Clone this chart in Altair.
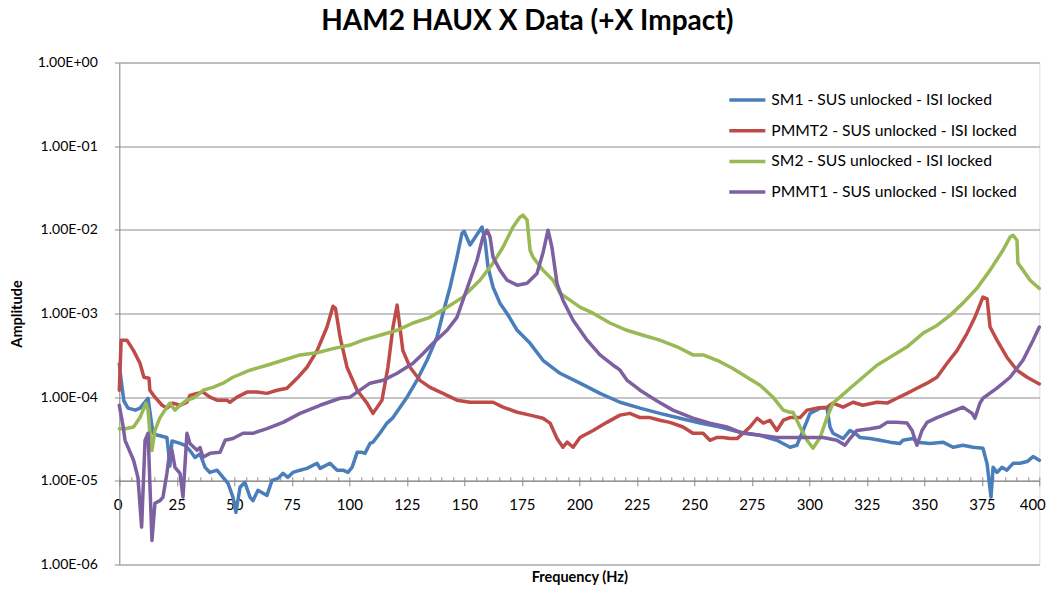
import altair as alt
import pandas as pd

# ---------------- data ----------------
series_names = [
    "SM1 - SUS unlocked - ISI locked",
    "PMMT2 - SUS unlocked - ISI locked",
    "SM2 - SUS unlocked - ISI locked",
    "PMMT1 - SUS unlocked - ISI locked",
]
series_colors = ["#4A7EBB", "#BE4B48", "#98B954", "#7D60A0"]

sm1_freq = [0.0, 0.8, 2.0, 3.8, 7.0, 9.0, 12.5, 14.2, 14.7, 16.8, 20.7, 21.2, 22.0, 22.9, 26.4, 28.6, 30.7, 32.9,
            35.1, 37.3, 39.4, 42.5, 45.1, 47.3, 49.4, 50.7, 52.5, 54.6, 56.8, 58.1, 60.3, 62.5, 64.2, 66.4, 69.0,
            71.2, 73.3, 75.5, 78.6, 81.6, 86.0, 87.3, 91.6, 94.7, 97.3, 99.4, 101.2, 103.4, 105.5, 106.8, 109.0,
            110.3, 113.3, 116.4, 119.0, 125.1, 129.4, 133.8, 138.1, 140.7, 143.8, 146.8, 149.0, 149.9, 152.5,
            157.7, 159.0, 160.3, 162.5, 165.5, 168.6, 173.0, 178.6, 184.2, 191.6, 200.3, 209.0, 217.7, 226.4,
            235.0, 243.8, 252.5, 261.2, 269.9, 278.6, 285.9, 291.6, 294.6, 297.3, 300.3, 304.7, 307.7, 309.0,
            310.3, 314.7, 317.7, 319.9, 322.0, 326.4, 330.7, 335.1, 339.4, 340.7, 345.1, 346.8, 352.5, 358.1,
            362.5, 366.8, 371.2, 375.5, 377.3, 379.0, 379.9, 381.6, 383.8, 385.9, 388.6, 391.6, 394.7, 397.3, 400.0]
sm1_amp = [2.5e-4, 1.6e-4, 9.0e-5, 7.4e-5, 7.0e-5, 7.4e-5, 9.7e-5, 4.5e-5, 3.7e-5, 3.5e-5, 3.3e-5, 2.5e-5, 1.5e-5,
           3.0e-5, 2.8e-5, 2.66e-5, 2.3e-5, 1.9e-5, 2.1e-5, 1.45e-5, 1.26e-5, 1.34e-5, 1.10e-5, 9.3e-6, 6.4e-6,
           4.2e-6, 8.4e-6, 9.6e-6, 6.4e-6, 5.8e-6, 7.7e-6, 7.1e-6, 6.7e-6, 1.01e-5, 1.07e-5, 1.23e-5, 1.10e-5,
           1.26e-5, 1.34e-5, 1.41e-5, 1.62e-5, 1.41e-5, 1.62e-5, 1.34e-5, 1.34e-5, 1.26e-5, 1.45e-5, 2.19e-5,
           2.19e-5, 2.13e-5, 2.8e-5, 2.9e-5, 3.7e-5, 4.9e-5, 5.7e-5, 1.0e-4, 1.59e-4, 2.76e-4, 5.2e-4, 1.0e-3,
           2.06e-3, 4.7e-3, 9.1e-3, 9.6e-3, 6.6e-3, 1.08e-2, 7.5e-3, 3.6e-3, 2.06e-3, 1.33e-3, 1.0e-3, 6.3e-4,
           4.4e-4, 2.76e-4, 1.93e-4, 1.47e-4, 1.11e-4, 8.7e-5, 7.4e-5, 6.4e-5, 5.6e-5, 4.9e-5, 4.4e-5, 3.8e-5,
           3.5e-5, 3.05e-5, 2.52e-5, 2.66e-5, 4.0e-5, 6.4e-5, 7.4e-5, 7.4e-5, 4.4e-5, 3.7e-5, 3.2e-5, 4.0e-5,
           3.7e-5, 3.3e-5, 3.2e-5, 3.05e-5, 2.9e-5, 2.8e-5, 3.05e-5, 3.2e-5, 2.9e-5, 2.8e-5, 2.9e-5, 2.52e-5,
           2.66e-5, 2.52e-5, 2.45e-5, 1.6e-5, 6.4e-6, 1.45e-5, 1.26e-5, 1.45e-5, 1.34e-5, 1.62e-5, 1.62e-5,
           1.7e-5, 1.95e-5, 1.76e-5]

pmmt2_freq = [0.0, 0.8, 3.3, 6.2, 9.0, 10.7, 12.9, 13.3, 15.5, 18.6, 20.7, 23.3, 26.4, 29.4, 30.7, 33.8, 36.4,
              39.4, 42.5, 46.8, 48.1, 51.2, 55.5, 59.9, 64.2, 68.6, 72.9, 77.3, 81.6, 86.0, 90.3, 92.9, 94.0,
              96.0, 99.0, 103.4, 107.7, 110.3, 114.2, 116.8, 119.0, 120.8, 122.0, 123.3, 126.4, 130.7, 135.1,
              140.7, 146.8, 152.5, 158.1, 162.5, 166.8, 173.0, 178.6, 184.2, 187.3, 190.3, 192.9, 194.7, 197.3,
              200.3, 206.0, 212.0, 217.7, 222.0, 226.4, 230.7, 235.0, 239.4, 245.1, 249.4, 253.8, 256.8, 259.9,
              262.5, 265.5, 268.6, 271.2, 274.2, 277.3, 280.0, 282.9, 285.9, 288.7, 291.6, 296.0, 299.0, 303.3,
              307.7, 310.3, 314.7, 319.0, 323.3, 329.4, 333.8, 338.1, 342.5, 346.8, 351.2, 355.5, 359.9, 364.2,
              368.6, 372.0, 375.5, 377.3, 378.6, 381.6, 385.9, 390.3, 394.7, 400.0]
pmmt2_amp = [1.21e-4, 4.8e-4, 4.8e-4, 3.6e-4, 2.54e-4, 1.73e-4, 1.68e-4, 1.21e-4, 1.0e-4, 8.0e-5, 7.4e-5, 8.5e-5,
             8.0e-5, 8.7e-5, 1.05e-4, 1.11e-4, 1.15e-4, 1.0e-4, 9.2e-5, 9.2e-5, 8.7e-5, 1.0e-4, 1.15e-4, 1.15e-4,
             1.11e-4, 1.21e-4, 1.28e-4, 1.68e-4, 2.28e-4, 3.6e-4, 6.9e-4, 1.22e-3, 1.15e-3, 5.2e-4, 2.28e-4,
             1.21e-4, 8.5e-5, 6.4e-5, 9.2e-5, 2.28e-4, 6.9e-4, 1.26e-3, 6.9e-4, 3.6e-4, 2.28e-4, 1.59e-4,
             1.31e-4, 1.11e-4, 9.2e-5, 8.7e-5, 8.7e-5, 8.7e-5, 7.6e-5, 6.6e-5, 6.1e-5, 5.6e-5, 4.9e-5, 3.2e-5,
             2.52e-5, 2.9e-5, 2.52e-5, 3.3e-5, 4.0e-5, 5.0e-5, 6.1e-5, 6.4e-5, 5.7e-5, 5.7e-5, 5.3e-5, 5.0e-5,
             4.4e-5, 3.7e-5, 3.7e-5, 3.05e-5, 3.3e-5, 3.3e-5, 3.2e-5, 3.2e-5, 3.7e-5, 4.4e-5, 5.6e-5, 4.9e-5,
             5.3e-5, 4.0e-5, 5.3e-5, 5.7e-5, 5.7e-5, 7.0e-5, 7.4e-5, 7.6e-5, 8.5e-5, 7.6e-5, 8.7e-5, 8.0e-5,
             8.7e-5, 8.5e-5, 9.7e-5, 1.11e-4, 1.28e-4, 1.47e-4, 1.73e-4, 2.54e-4, 3.6e-4, 5.8e-4, 9.0e-4,
             1.57e-3, 1.5e-3, 6.9e-4, 4.8e-4, 3.0e-4, 2.1e-4, 1.73e-4, 1.44e-4]

sm2_freq = [0.0, 2.5, 6.2, 9.0, 11.6, 12.5, 13.3, 14.2, 15.5, 17.7, 20.7, 22.0, 24.2, 26.4, 29.4, 32.0, 35.1,
            36.4, 40.7, 45.1, 49.4, 56.8, 64.2, 71.2, 78.6, 86.0, 92.9, 100.3, 106.0, 113.3, 120.8, 127.7, 135.1,
            142.5, 149.4, 156.8, 162.5, 166.8, 171.2, 174.2, 175.5, 177.3, 178.6, 179.9, 184.2, 188.6, 191.6,
            200.3, 206.0, 213.3, 220.7, 227.7, 235.0, 242.5, 249.4, 253.8, 259.9, 266.8, 272.9, 278.6, 284.2,
            288.7, 291.6, 292.9, 296.0, 299.0, 301.6, 304.7, 307.7, 310.3, 313.3, 317.7, 323.3, 329.4, 335.1,
            342.5, 349.4, 355.5, 361.2, 366.8, 372.9, 378.6, 384.2, 387.3, 388.6, 390.3, 390.7, 392.9, 396.0,
            399.4, 400.0]
sm2_amp = [4.2e-5, 4.2e-5, 4.4e-5, 5.7e-5, 8.5e-5, 7.0e-5, 3.7e-5, 2.3e-5, 4.0e-5, 5.7e-5, 7.6e-5, 8.5e-5, 7.0e-5,
           8.0e-5, 9.2e-5, 9.7e-5, 1.11e-4, 1.21e-4, 1.31e-4, 1.47e-4, 1.73e-4, 2.1e-4, 2.41e-4, 2.76e-4, 3.2e-4,
           3.4e-4, 3.8e-4, 4.2e-4, 4.8e-4, 5.5e-4, 6.3e-4, 7.7e-4, 9.0e-4, 1.19e-3, 1.57e-3, 2.5e-3, 4.0e-3,
           6.2e-3, 1.08e-2, 1.42e-2, 1.5e-2, 1.31e-2, 5.7e-3, 4.7e-3, 3.3e-3, 2.5e-3, 1.75e-3, 1.19e-3, 1.01e-3,
           7.7e-4, 6.3e-4, 5.5e-4, 4.8e-4, 4.0e-4, 3.2e-4, 3.2e-4, 2.76e-4, 2.2e-4, 1.73e-4, 1.39e-4, 1.0e-4,
           7.0e-5, 6.6e-5, 6.6e-5, 4.4e-5, 3.05e-5, 2.45e-5, 3.3e-5, 5.7e-5, 8.5e-5, 1.0e-4, 1.28e-4, 1.73e-4,
           2.41e-4, 3.0e-4, 4.0e-4, 5.8e-4, 7.2e-4, 9.5e-4, 1.33e-3, 2.0e-3, 3.3e-3, 5.7e-3, 8.2e-3, 8.6e-3,
           7.5e-3, 4.0e-3, 3.3e-3, 2.5e-3, 2.06e-3, 2.0e-3]

pmmt1_freq = [0.0, 1.7, 2.5, 6.2, 8.1, 9.7, 11.2, 12.5, 14.2, 15.5, 17.7, 19.0, 20.7, 22.0, 22.9, 24.2, 26.4,
              27.7, 29.4, 30.7, 33.8, 35.1, 36.4, 39.4, 43.8, 46.0, 49.4, 53.8, 58.1, 64.2, 71.2, 78.6, 87.3,
              96.0, 100.3, 109.0, 114.7, 120.8, 127.7, 132.0, 136.4, 142.5, 146.8, 149.4, 152.5, 155.5, 158.1,
              159.9, 161.2, 162.5, 165.5, 168.6, 173.0, 177.3, 181.6, 184.2, 186.4, 188.1, 190.3, 192.9, 197.3,
              203.4, 209.0, 214.7, 216.8, 217.7, 220.7, 226.4, 233.8, 240.7, 249.4, 256.8, 264.2, 271.2, 278.6,
              285.9, 292.9, 300.3, 306.0, 312.0, 315.5, 317.7, 320.7, 326.4, 330.7, 333.8, 338.1, 342.5, 344.7,
              346.8, 349.0, 351.2, 355.5, 361.2, 366.8, 370.8, 372.0, 374.2, 375.5, 381.6, 387.3, 392.9, 397.3,
              400.0]
pmmt1_amp = [8.0e-5, 4.4e-5, 3.05e-5, 1.76e-5, 1.10e-5, 2.8e-6, 3.05e-5, 3.7e-5, 1.94e-6, 5.4e-6, 5.8e-6, 6.4e-6,
             1.23e-5, 2.3e-5, 2.32e-5, 1.45e-5, 1.23e-5, 6.4e-6, 3.7e-5, 2.8e-5, 2.32e-5, 2.5e-5, 1.91e-5,
             2.13e-5, 2.19e-5, 3.05e-5, 3.2e-5, 3.7e-5, 3.7e-5, 4.2e-5, 5.0e-5, 6.4e-5, 8.0e-5, 9.7e-5, 1.0e-4,
             1.47e-4, 1.59e-4, 1.93e-4, 2.54e-4, 3.3e-4, 4.4e-4, 6.3e-4, 9.0e-4, 1.44e-3, 2.5e-3, 4.3e-3, 8.2e-3,
             9.9e-3, 8.2e-3, 4.7e-3, 3.3e-3, 2.5e-3, 2.18e-3, 2.3e-3, 3.0e-3, 5.3e-3, 9.9e-3, 6.2e-3, 2.3e-3,
             1.44e-3, 8.3e-4, 4.8e-4, 3.2e-4, 2.41e-4, 2.2e-4, 2.1e-4, 1.6e-4, 1.21e-4, 9.0e-5, 7.0e-5, 5.6e-5,
             4.9e-5, 4.4e-5, 3.7e-5, 3.5e-5, 3.3e-5, 3.3e-5, 3.3e-5, 3.3e-5, 3.05e-5, 2.66e-5, 3.2e-5, 4.0e-5,
             4.2e-5, 4.4e-5, 5.0e-5, 5.0e-5, 4.9e-5, 4.0e-5, 2.66e-5, 4.0e-5, 5.0e-5, 5.7e-5, 6.6e-5, 7.6e-5,
             6.4e-5, 5.6e-5, 8.5e-5, 9.7e-5, 1.28e-4, 1.73e-4, 2.76e-4, 4.8e-4, 6.9e-4]

x_major_ticks = list(range(0, 401, 25))
x_minor_ticks = list(range(0, 401, 5))
y_ticks = [1e-6, 1e-5, 1e-4, 1e-3, 1e-2, 1e-1, 1.0]

rows = []
for name, fr, am in zip(series_names,
                        [sm1_freq, pmmt2_freq, sm2_freq, pmmt1_freq],
                        [sm1_amp, pmmt2_amp, sm2_amp, pmmt1_amp]):
    for f, a in zip(fr, am):
        rows.append({"series": name, "freq": f, "amp": a})
df = pd.DataFrame(rows)

# ---------------- chart ----------------
FONT = "Lato"
GRID = "#8c8c8c"
PLOT_W, PLOT_H = 920, 502

x_scale = alt.Scale(domain=[0, 400], nice=False, zero=False)
y_scale = alt.Scale(type="log", domain=[1e-6, 1], nice=False)

lines = alt.Chart(df).mark_line(strokeWidth=3.5, strokeJoin="round", strokeCap="round").encode(
    x=alt.X("freq:Q", scale=x_scale,
            axis=alt.Axis(orient="bottom", values=x_major_ticks, offset=-PLOT_H / 6,
                          title="Frequency (Hz)", titleX=PLOT_W / 2, titleY=97, titleAlign="center",
                          titleBaseline="middle", titleFontSize=14.5, titleFont=FONT, titleFontWeight="bold",
                          titleColor="#000000",
                          labelFontSize=15, labelFont=FONT, labelColor="#000000", labelPadding=12,
                          labelFlush=True, labelFlushOffset=6, labelOverlap=False,
                          tickSize=5, tickColor=GRID, domainColor=GRID, grid=False)),
    y=alt.Y("amp:Q", scale=y_scale,
            axis=alt.Axis(values=y_ticks,
                          labelExpr="'1.00E' + (datum.value >= 1 ? '+' : '-') + '0' + abs(round(log(datum.value) / LN10))",
                          title="Amplitude", titleX=-102, titleY=PLOT_H / 2, titleAlign="center",
                          titleBaseline="middle", titleAngle=270, titleFontSize=14.5, titleFont=FONT,
                          titleFontWeight="bold", titleColor="#000000",
                          labelFontSize=14, labelFont=FONT, labelColor="#000000", labelPadding=17,
                          tickSize=5, tickColor=GRID, domainColor=GRID,
                          grid=True, gridColor=GRID, gridWidth=1)),
    color=alt.Color("series:N",
                    scale=alt.Scale(domain=series_names, range=series_colors),
                    sort=series_names,
                    legend=alt.Legend(title=None, orient="none", legendX=608, legendY=30,
                                      symbolType="stroke", symbolStrokeWidth=3.5, symbolSize=1296,
                                      labelFontSize=15.7, labelFont=FONT, labelColor="#000000",
                                      labelOffset=4, labelLimit=400, clipHeight=15, rowPadding=13.7,
                                      padding=0)),
)

minor = alt.Chart(df).mark_rule(opacity=0).encode(
    x=alt.X("freq:Q", scale=x_scale,
            axis=alt.Axis(orient="top", values=x_minor_ticks, offset=-(PLOT_H * 5 / 6),
                          labels=False, domain=False, grid=False, ticks=True, tickSize=4,
                          tickColor=GRID, title=None)),
)

chart = alt.layer(lines, minor).resolve_axis(x="independent").properties(
    width=PLOT_W,
    height=PLOT_H,
    autosize=alt.AutoSizeParams(type="none"),
    padding={"left": 111.3, "top": 54.5, "right": 11.7, "bottom": 25.5},
    title=alt.TitleParams("HAM2 HAUX X Data (+X Impact)", font=FONT, fontSize=28, fontWeight="bold",
                          color="#000000", anchor="middle", dx=-52, offset=-2,
                          baseline="alphabetic"),
).configure_view(stroke=None).configure(background="white")

chart.save("out.html", embed_options={"renderer": "svg", "actions": False})
